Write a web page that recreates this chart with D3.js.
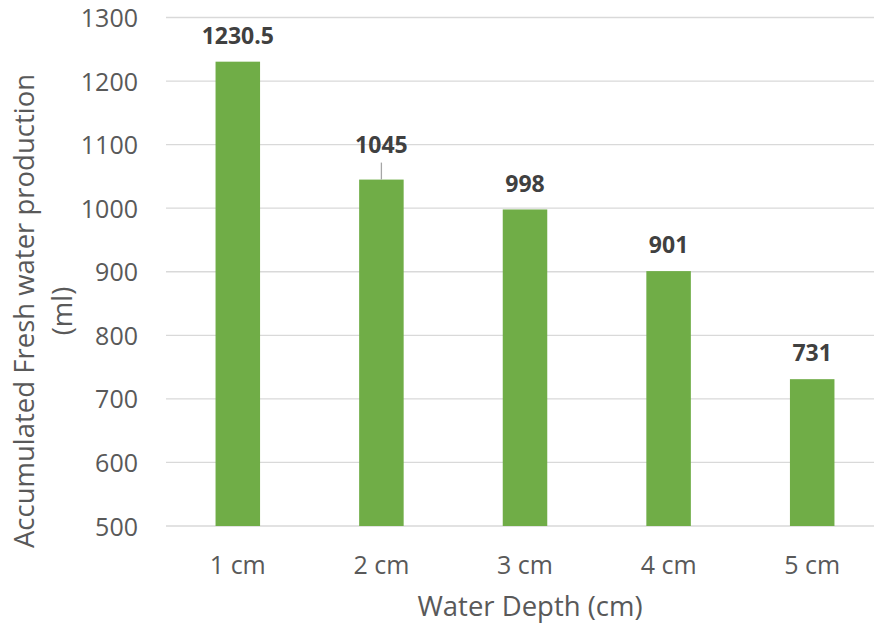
<!DOCTYPE html>
<html>
<head>
<meta charset="utf-8">
<script src="https://cdn.jsdelivr.net/npm/d3@7"></script>
<style>
  body { margin: 0; background: #fff; }
  text { font-family: "Open Sans", sans-serif; }
</style>
</head>
<body>
<svg id="chart"></svg>
<script>
/* Data */
const depths = ['1 cm', '2 cm', '3 cm', '4 cm', '5 cm'];
const production = [1230.5, 1045, 998, 901, 731];
const labelText = ['1230.5', '1045', '998', '901', '731'];
const yTicks = [500, 600, 700, 800, 900, 1000, 1100, 1200, 1300];

/* Dimensions */
const W = 874, H = 628;
const plot = { left: 166, right: 884, top: 17.5, bottom: 526 };

const svg = d3.select("#chart")
    .attr("width", W)
    .attr("height", H);

/* Scales */
const x = d3.scaleBand()
    .domain(depths)
    .range([plot.left, plot.right])
    .paddingInner(0.69)
    .paddingOuter(0.345);

const y = d3.scaleLinear()
    .domain([500, 1300])
    .range([plot.bottom, plot.top]);

/* Gridlines */
svg.append("g")
    .selectAll("line")
    .data(yTicks)
    .join("line")
      .attr("x1", plot.left)
      .attr("x2", plot.right)
      .attr("y1", d => y(d))
      .attr("y2", d => y(d))
      .attr("stroke", "#d9d9d9")
      .attr("stroke-width", 1.3);

/* Y axis */
const yAxis = d3.axisLeft(y).tickValues(yTicks).tickFormat(d3.format("d")).tickSize(0).tickPadding(0);
svg.append("g")
    .attr("transform", `translate(138,0)`)
    .call(yAxis)
    .call(g => g.select(".domain").remove())
    .call(g => g.selectAll("text")
        .attr("fill", "#595959")
        .attr("dy", "0.36em")
        .style("font-size", "25px")
        .style("font-family", "'Open Sans', sans-serif"));

/* X axis */
const xAxis = d3.axisBottom(x).tickSize(0).tickPadding(0);
svg.append("g")
    .attr("transform", `translate(0,565)`)
    .call(xAxis)
    .call(g => g.select(".domain").remove())
    .call(g => g.selectAll("text")
        .attr("fill", "#595959")
        .attr("y", 0)
        .attr("dy", "0.36em")
        .style("font-size", "25px")
        .style("font-family", "'Open Sans', sans-serif"));

/* Bars */
const data = depths.map((d, i) => ({ depth: d, value: production[i], label: labelText[i] }));

svg.selectAll(".bar")
    .data(data)
    .join("rect")
      .attr("class", "bar")
      .attr("x", d => x(d.depth))
      .attr("y", d => y(d.value))
      .attr("width", x.bandwidth())
      .attr("height", d => plot.bottom - y(d.value))
      .attr("fill", "#70ad47");

/* Leader line for the 1045 label (moved up) */
const lifted = { '2 cm': 9 };
svg.selectAll(".leader")
    .data(data.filter(d => lifted[d.depth]))
    .join("line")
      .attr("x1", d => x(d.depth) + x.bandwidth() / 2)
      .attr("x2", d => x(d.depth) + x.bandwidth() / 2)
      .attr("y1", d => y(d.value) - 17)
      .attr("y2", d => y(d.value))
      .attr("stroke", "#a6a6a6")
      .attr("stroke-width", 1.3);

/* Value labels */
svg.selectAll(".label")
    .data(data)
    .join("text")
      .attr("class", "label")
      .attr("x", d => x(d.depth) + x.bandwidth() / 2)
      .attr("y", d => y(d.value) - 26 - (lifted[d.depth] || 0))
      .attr("dy", "0.36em")
      .attr("text-anchor", "middle")
      .attr("fill", "#404040")
      .style("font-size", "23px")
      .style("font-weight", "bold")
      .text(d => d.label);

/* Axis titles */
svg.append("text")
    .attr("x", 530)
    .attr("y", 606)
    .attr("dy", "0.36em")
    .attr("text-anchor", "middle")
    .attr("fill", "#595959")
    .style("font-size", "27.5px")
    .text("Water Depth (cm)");

const yTitle = svg.append("text")
    .attr("transform", "translate(0,311) rotate(-90)")
    .attr("text-anchor", "middle")
    .attr("fill", "#595959")
    .style("font-size", "27.5px");
yTitle.append("tspan").attr("x", 0).attr("y", 24).attr("dy", "0.36em")
    .text("Accumulated Fresh water production");
yTitle.append("tspan").attr("x", 0).attr("y", 62).attr("dy", "0.36em")
    .text("(ml)");
</script>
</body>
</html>
